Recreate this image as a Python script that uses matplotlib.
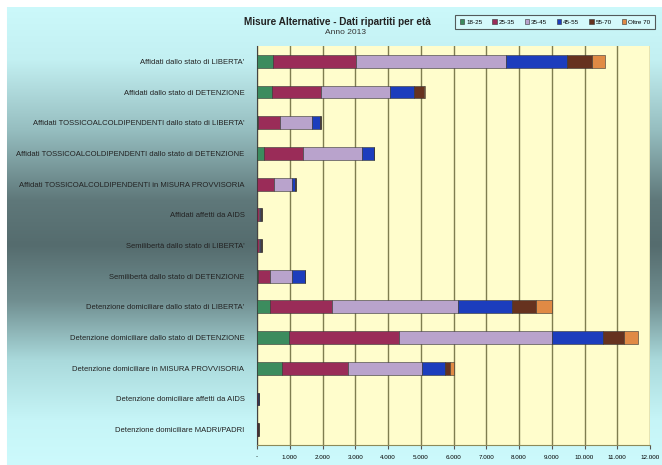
import numpy as np
import matplotlib
matplotlib.use('Agg')
import matplotlib.pyplot as plt
from matplotlib.ticker import FuncFormatter

plt.rcParams['font.family'] = ['Liberation Sans', 'DejaVu Sans']

categorie = [
    "Affidati dallo stato di LIBERTA'",
    "Affidati dallo stato di DETENZIONE",
    "Affidati TOSSICOALCOLDIPENDENTI dallo stato di LIBERTA'",
    "Affidati TOSSICOALCOLDIPENDENTI dallo stato di DETENZIONE",
    "Affidati TOSSICOALCOLDIPENDENTI in MISURA PROVVISORIA",
    "Affidati affetti da AIDS",
    "Semilibertà dallo stato di LIBERTA'",
    "Semilibertà dallo stato di DETENZIONE",
    "Detenzione domiciliare dallo stato di LIBERTA'",
    "Detenzione domiciliare dallo stato di DETENZIONE",
    "Detenzione domiciliare in MISURA PROVVISORIA",
    "Detenzione domiciliare affetti da AIDS",
    "Detenzione domiciliare MADRI/PADRI",
]

fasce = ["18-25", "25-35", "35-45", "45-55", "55-70", "Oltre 70"]

eta_18_25 = [490, 470, 20, 200, 10, 10, 10, 20, 390, 970, 770, 5, 5]
eta_25_35 = [2520, 1480, 670, 1200, 520, 50, 50, 370, 1900, 3380, 2000, 20, 15]
eta_35_45 = [4600, 2100, 1000, 1800, 530, 40, 45, 690, 3860, 4650, 2280, 15, 15]
eta_45_55 = [1870, 730, 240, 360, 110, 25, 25, 390, 1630, 1580, 680, 10, 8]
eta_55_70 = [740, 330, 10, 10, 10, 15, 15, 10, 740, 630, 150, 8, 5]
oltre_70 = [420, 20, 0, 0, 0, 5, 5, 0, 490, 420, 140, 2, 2]

serie = [eta_18_25, eta_25_35, eta_35_45, eta_45_55, eta_55_70, oltre_70]
colori = ['#3c8c5e', '#9a2c58', '#b9a3cc', '#1c3dbd', '#66321f', '#e08a45']

fig = plt.figure(figsize=(6.62, 4.65), dpi=100)

# sfondo sfumato (ciano - grigio scuro - ciano)
bg = fig.add_axes([0, 0, 1, 1], zorder=-10)
stops_y = [0, 60, 130, 200, 245, 300, 360, 420, 465]
stops_c = np.array([[205, 250, 252], [195, 240, 242], [150, 190, 192],
                    [95, 120, 122], [85, 108, 110], [112, 142, 144],
                    [170, 218, 220], [198, 245, 247], [205, 250, 252]]) / 255
yy = np.arange(465)
grad = np.stack([np.interp(yy, stops_y, stops_c[:, k]) for k in range(3)], axis=1)
img = np.repeat(grad[:, None, :], 662, axis=1)
img[:8, :, :] = 1.0
img[:, :7, :] = 1.0
bg.imshow(img, aspect='auto', extent=[0, 1, 0, 1], origin='upper')
bg.axis('off')

ax = fig.add_axes([257 / 662, 1 - 445 / 465, 393 / 662, 399 / 465])
ax.set_facecolor('#fffdcc')

y = np.arange(len(categorie))
left = np.zeros(len(categorie))
for vals, col, lab in zip(serie, colori, fasce):
    ax.barh(y, vals, left=left, height=0.42, color=col, label=lab,
            edgecolor='#333333', linewidth=0.4, zorder=3)
    left += np.array(vals)

ax.set_xlim(0, 12000)
ax.set_ylim(len(categorie) - 0.5, -0.5)
ax.set_xticks(np.arange(0, 12001, 1000))
ax.xaxis.set_major_formatter(FuncFormatter(
    lambda v, p: '-' if v == 0 else f"{int(v):,}".replace(',', '.')))
ax.grid(axis='x', color='#7f7d50', linewidth=1.0, zorder=0)
ax.set_yticks(y)
ax.set_yticklabels(categorie, fontsize=5.5, color='#222222')
ax.tick_params(axis='y', length=0, pad=9)
ax.tick_params(axis='x', labelsize=4.5, length=3, color='#555555', pad=4)
for s in ['top', 'right']:
    ax.spines[s].set_visible(False)
ax.spines['left'].set_color('#444444')
ax.spines['bottom'].set_color('#8c8a5a')

fig.text(337 / 662, 1 - 22 / 465, "Misure Alternative - Dati ripartiti per età",
         ha='center', va='center', fontsize=7.2, fontweight='bold', color='#222222')
fig.text(345 / 662, 1 - 33 / 465, "Anno 2013", ha='center', va='center',
         fontsize=6, color='#333333')

leg = fig.legend(loc='center', bbox_to_anchor=(555 / 662, 1 - 22 / 465), ncol=6,
                 fontsize=4.5, frameon=True, handlelength=0.7, handleheight=0.7,
                 handletextpad=0.3, columnspacing=1.6, borderpad=0.45)
leg.get_frame().set_edgecolor('#333333')
leg.get_frame().set_facecolor('#d8fbfc')
leg.get_frame().set_linewidth(0.8)
leg.get_frame().set_boxstyle('square')

fig.savefig('out.png', dpi=100)
